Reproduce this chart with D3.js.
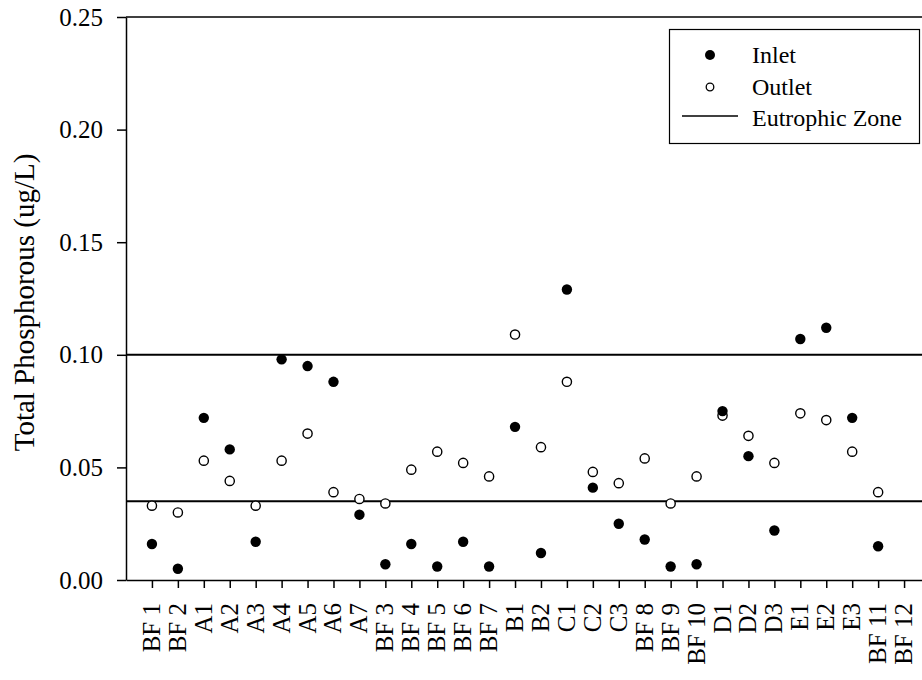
<!DOCTYPE html>
<html>
<head>
<meta charset="utf-8">
<script src="https://cdn.jsdelivr.net/npm/d3@7"></script>
<style>
	body { margin: 0; background: #fff; }
	svg text { font-family: "Liberation Serif", "Times New Roman", serif; fill: #000; }
</style>
</head>
<body>
<svg id="chart" width="922" height="680"></svg>
<script>
// sites along the x axis, left to right
var sites = ["BF 1", "BF 2", "A1", "A2", "A3", "A4", "A5", "A6", "A7", "BF 3", "BF 4", "BF 5", "BF 6", "BF 7",
	"B1", "B2", "C1", "C2", "C3", "BF 8", "BF 9", "BF 10", "D1", "D2", "D3", "E1", "E2", "E3", "BF 11", "BF 12"];

// total phosphorous (null = no sample)
var inlet = [0.016, 0.005, 0.072, 0.058, 0.017, 0.098, 0.095, 0.088, 0.029, 0.007, 0.016, 0.006, 0.017, 0.006,
	0.068, 0.012, 0.129, 0.041, 0.025, 0.018, 0.006, 0.007, 0.075, 0.055, 0.022, 0.107, 0.112, 0.072, 0.015, null];
var outlet = [0.033, 0.030, 0.053, 0.044, 0.033, 0.053, 0.065, 0.039, 0.036, 0.034, 0.049, 0.057, 0.052, 0.046,
	0.109, 0.059, 0.088, 0.048, 0.043, 0.054, 0.034, 0.046, 0.073, 0.064, 0.052, 0.074, 0.071, 0.057, 0.039, null];

// eutrophic zone bounds
var eutrophic = [0.035, 0.10];
var yTicks = [0, 0.05, 0.10, 0.15, 0.20, 0.25];

var margin = {top: 17, left: 126},
	width = 930 - margin.left,   // right edge runs just past the picture
	height = 580 - margin.top;

var svg = d3.select("#chart")
	.append("g")
	.attr("transform", "translate(" + margin.left + "," + margin.top + ")");

var x = d3.scalePoint()
	.domain(sites)
	.range([0, width])
	.padding(1);
var y = d3.scaleLinear()
	.domain([0, 0.25])
	.range([height, 0]);

// top frame line
svg.append("line")
	.attr("x1", 0).attr("x2", width)
	.attr("y1", 0).attr("y2", 0)
	.attr("stroke", "#000")
	.attr("stroke-width", 1.5);

// y axis
var yAxis = svg.append("g")
	.call(d3.axisLeft(y)
		.tickValues(yTicks)
		.tickFormat(d3.format(".2f"))
		.tickSize(9)
		.tickSizeOuter(0)
		.tickPadding(14));
yAxis.selectAll("text")
	.style("font-size", "25px")
	.style("font-family", "'Liberation Serif', serif");

// x axis
var xAxis = svg.append("g")
	.attr("transform", "translate(0," + height + ")")
	.call(d3.axisBottom(x).tickSize(8).tickSizeOuter(0));
xAxis.selectAll("text")
	.style("font-size", "25px")
	.style("font-family", "'Liberation Serif', serif")
	.style("text-anchor", "end")
	.attr("transform", "rotate(-90)")
	.attr("x", -23)
	.attr("y", 0)
	.attr("dy", "0.3em");

svg.selectAll(".domain, .tick line")
	.attr("stroke", "#000")
	.attr("stroke-width", 1.5);

// y axis label
svg.append("text")
	.attr("transform", "rotate(-90)")
	.attr("x", -(height / 2) - 4)
	.attr("y", -margin.left + 34)
	.style("text-anchor", "middle")
	.style("font-size", "29px")
	.text("Total Phosphorous (ug/L)");

// eutrophic zone lines
svg.selectAll(".zone")
	.data(eutrophic)
	.enter().append("line")
	.attr("class", "zone")
	.attr("x1", 0).attr("x2", width)
	.attr("y1", function(d) { return y(d); })
	.attr("y2", function(d) { return y(d); })
	.attr("stroke", "#000")
	.attr("stroke-width", 2);

// outlet points (open)
svg.selectAll(".outlet")
	.data(outlet.map(function(v, i) { return {site: sites[i], v: v}; }).filter(function(d) { return d.v !== null; }))
	.enter().append("circle")
	.attr("class", "outlet")
	.attr("cx", function(d) { return x(d.site); })
	.attr("cy", function(d) { return y(d.v); })
	.attr("r", 4.6)
	.attr("fill", "#fff")
	.attr("stroke", "#000")
	.attr("stroke-width", 1.4);

// inlet points (filled)
svg.selectAll(".inlet")
	.data(inlet.map(function(v, i) { return {site: sites[i], v: v}; }).filter(function(d) { return d.v !== null; }))
	.enter().append("circle")
	.attr("class", "inlet")
	.attr("cx", function(d) { return x(d.site); })
	.attr("cy", function(d) { return y(d.v); })
	.attr("r", 5.2)
	.attr("fill", "#000");

// legend
var legend = d3.select("#chart").append("g");
legend.append("rect")
	.attr("x", 669.5).attr("y", 29.5)
	.attr("width", 250).attr("height", 114)
	.attr("fill", "#fff")
	.attr("stroke", "#000")
	.attr("stroke-width", 1.2);
legend.append("circle").attr("cx", 710).attr("cy", 55).attr("r", 5).attr("fill", "#000");
legend.append("circle").attr("cx", 710).attr("cy", 87).attr("r", 3.8)
	.attr("fill", "#fff").attr("stroke", "#000").attr("stroke-width", 1.3);
legend.append("line")
	.attr("x1", 682).attr("x2", 738)
	.attr("y1", 116).attr("y2", 116)
	.attr("stroke", "#000").attr("stroke-width", 1.5);
legend.selectAll(".legtext")
	.data(["Inlet", "Outlet", "Eutrophic Zone"])
	.enter().append("text")
	.attr("x", 752)
	.attr("y", function(d, i) { return 63 + i * 31.5; })
	.style("font-size", "24px")
	.text(function(d) { return d; });
</script>
</body>
</html>
